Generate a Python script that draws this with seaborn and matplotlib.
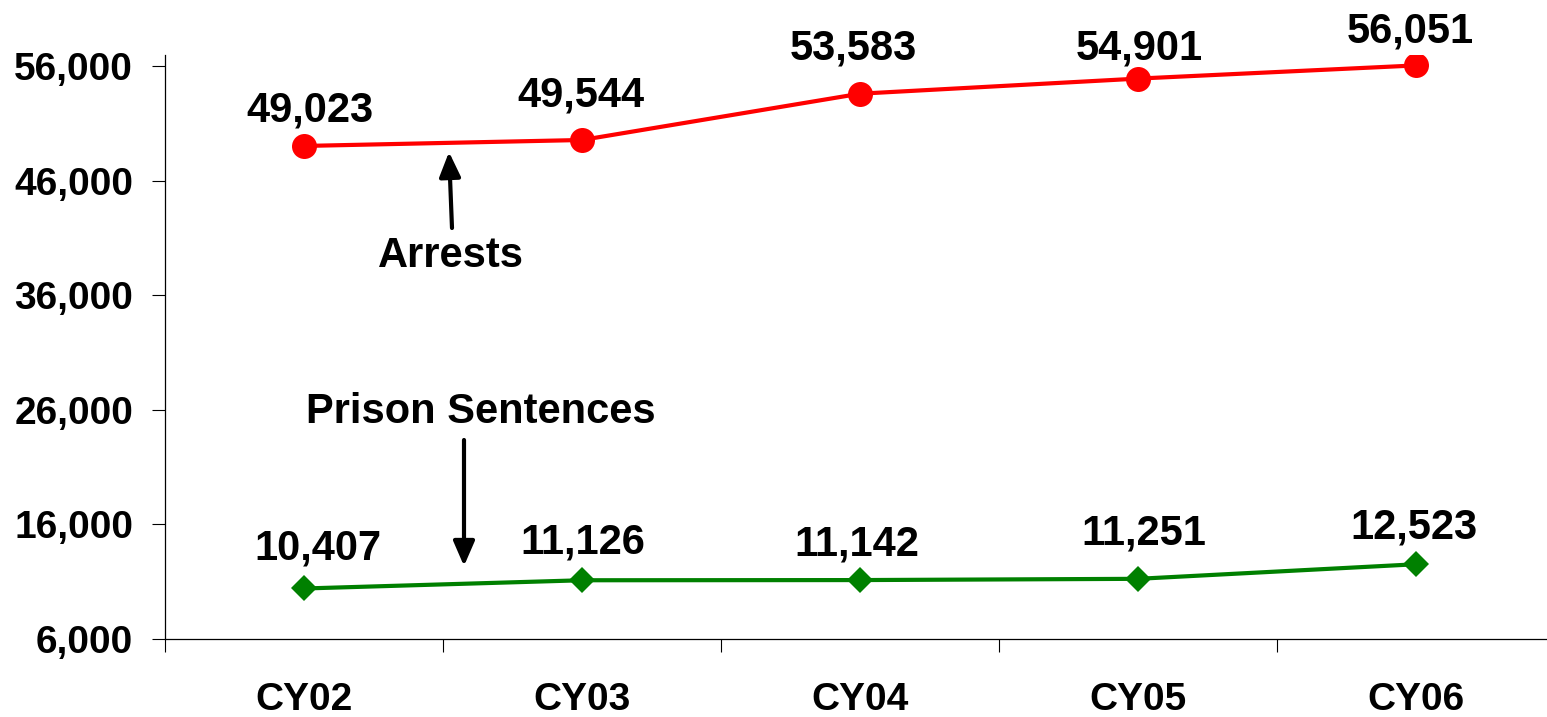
import matplotlib
matplotlib.use("Agg")
import matplotlib.pyplot as plt
from matplotlib.patches import FancyArrowPatch
from matplotlib.ticker import FixedLocator, FuncFormatter
import seaborn as sns
import pandas as pd

# Calendar years and yearly totals
years = ["CY02", "CY03", "CY04", "CY05", "CY06"]
arrests = [49023, 49544, 53583, 54901, 56051]
prison_sentences = [10407, 11126, 11142, 11251, 12523]
y_ticks = [6000, 16000, 26000, 36000, 46000, 56000]

# Pixel offsets of each value label from its marker (dx, baseline height above marker)
arrest_label_offsets = [(6, 24), (-1, 33), (-7, 34), (1, 19), (-6, 23)]
prison_label_offsets = [(14, 29), (1, 27), (-3, 25), (6, 34), (-2, 26)]

sns.set_style("white")
plt.rcParams["font.family"] = ["Liberation Sans", "DejaVu Sans"]
plt.rcParams["font.weight"] = "bold"
plt.rcParams["text.color"] = "black"
plt.rcParams["xtick.color"] = "black"
plt.rcParams["ytick.color"] = "black"
plt.rcParams["axes.labelcolor"] = "black"

W, H = 1547, 717
fig = plt.figure(figsize=(W / 100, H / 100), dpi=100)
ax = fig.add_axes([165 / W, 78 / H, (1555 - 165) / W, (639 - 55) / H])

df = pd.DataFrame({"year": years, "Arrests": arrests, "Prison Sentences": prison_sentences})
pos = list(range(len(years)))

sns.lineplot(x=pos, y=df["Arrests"], ax=ax, color="#ff0000", lw=3.0,
             marker="o", markersize=18, markeredgewidth=0, markerfacecolor="#ff0000")
sns.lineplot(x=pos, y=df["Prison Sentences"], ax=ax, color="#008000", lw=3.0,
             marker="D", markersize=13.5, markeredgewidth=0, markerfacecolor="#008000")

for i, (v, (dx, dy)) in enumerate(zip(arrests, arrest_label_offsets)):
    ax.annotate(f"{v:,}", (i, v), xytext=(dx, dy), textcoords="offset pixels",
                ha="center", va="baseline", fontsize=30, fontweight="bold", color="black")
for i, (v, (dx, dy)) in enumerate(zip(prison_sentences, prison_label_offsets)):
    ax.annotate(f"{v:,}", (i, v), xytext=(dx, dy), textcoords="offset pixels",
                ha="center", va="baseline", fontsize=30, fontweight="bold", color="black")

# Series callouts with arrows
arrow_style = "-|>,head_length=15,head_width=6.5"
fig.text(451 / W, 1 - 267 / H, "Arrests", ha="center", va="baseline",
         fontsize=30, fontweight="bold", color="black")
fig.add_artist(FancyArrowPatch(
    (452 / W, 1 - 228 / H), (449 / W, 1 - 152 / H), transform=fig.transFigure,
    arrowstyle=arrow_style, lw=3, color="black", shrinkA=0, shrinkB=0))

fig.text(481 / W, 1 - 423 / H, "Prison Sentences", ha="center", va="baseline",
         fontsize=30, fontweight="bold", color="black")
fig.add_artist(FancyArrowPatch(
    (464 / W, 1 - 440 / H), (464 / W, 1 - 566 / H), transform=fig.transFigure,
    arrowstyle=arrow_style, lw=3, color="black", shrinkA=0, shrinkB=0))

ax.set_xlim(-0.5, len(years) - 0.5)
ax.set_ylim(6000, 56960)
ax.set_xlabel("")
ax.set_ylabel("")

ax.yaxis.set_major_locator(FixedLocator(y_ticks))
ax.yaxis.set_major_formatter(FuncFormatter(lambda v, p: f"{int(v):,}"))
ax.xaxis.set_major_locator(FixedLocator(pos))
ax.set_xticklabels(years)
ax.xaxis.set_minor_locator(FixedLocator([p - 0.5 for p in pos] + [len(years) - 0.5]))

ax.tick_params(axis="y", which="major", length=9.4, width=0.8, color="black",
               direction="out", left=True, pad=13.5, labelsize=28, labelcolor="black")
ax.tick_params(axis="x", which="major", length=0, pad=31, labelsize=28, labelcolor="black")
ax.tick_params(axis="x", which="minor", length=9, width=0.8, color="black",
               direction="out", bottom=True)
for lab in ax.get_xticklabels() + ax.get_yticklabels():
    lab.set_fontweight("bold")

for side in ["top", "right"]:
    ax.spines[side].set_visible(False)
for side in ["left", "bottom"]:
    ax.spines[side].set_color("black")
    ax.spines[side].set_linewidth(0.9)

fig.savefig("out.png", dpi=100)
